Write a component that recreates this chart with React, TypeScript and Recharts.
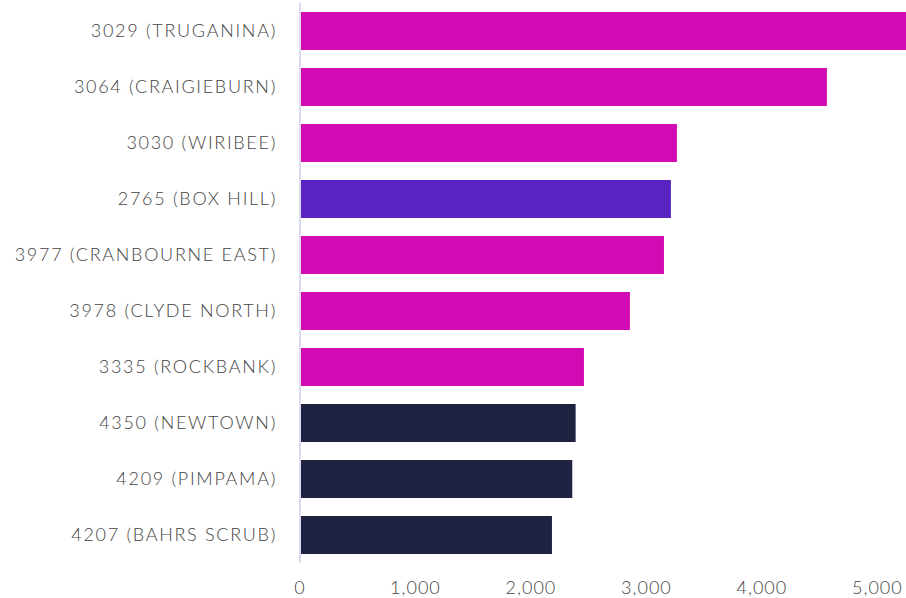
import { Bar, BarChart, Cell, XAxis, YAxis } from 'recharts';

const suburbs = [
  '3029 (TRUGANINA)',
  '3064 (CRAIGIEBURN)',
  '3030 (WIRIBEE)',
  '2765 (BOX HILL)',
  '3977 (CRANBOURNE EAST)',
  '3978 (CLYDE NORTH)',
  '3335 (ROCKBANK)',
  '4350 (NEWTOWN)',
  '4209 (PIMPAMA)',
  '4207 (BAHRS SCRUB)',
];
const counts = [5300, 4563, 3264, 3212, 3152, 2857, 2459, 2387, 2358, 2182];
const states = ['VIC', 'VIC', 'VIC', 'NSW', 'VIC', 'VIC', 'VIC', 'QLD', 'QLD', 'QLD'];
const xTicks = [0, 1000, 2000, 3000, 4000, 5000];

const stateColors: Record<string, string> = {
  VIC: '#d20ab4',
  NSW: '#5a22c0',
  QLD: '#1f2341',
};

const chartData = suburbs.map((name, i) => ({ name, value: counts[i], state: states[i] }));

const font = 'Lato, "Open Sans", sans-serif';

export default function App() {
  return (
    <div style={{ position: 'absolute', left: 0, top: 0, width: 906, height: 598, overflow: 'hidden', background: '#fff' }}>
      <BarChart
        width={920}
        height={598}
        data={chartData}
        layout="vertical"
        margin={{ top: 3, right: 8, bottom: 0, left: 0 }}
        barCategoryGap={9}
      >
        <XAxis
          type="number"
          domain={[0, 5300]}
          ticks={xTicks}
          tickFormatter={(v: number) => v.toLocaleString('en-US')}
          axisLine={false}
          tickLine={false}
          tickSize={0}
          tickMargin={18}
          height={35}
          tick={{ fontSize: 18, fill: '#444', fontFamily: font, fontWeight: 300, letterSpacing: '1px' }}
        />
        <YAxis
          type="category"
          dataKey="name"
          width={300}
          axisLine={{ stroke: '#dcdaf0', strokeWidth: 2 }}
          tickLine={false}
          tickSize={0}
          tickMargin={23}
          interval={0}
          tick={{ fontSize: 18, fill: '#444', fontFamily: font, fontWeight: 300, letterSpacing: '1.7px' }}
        />
        <Bar dataKey="value" isAnimationActive={false}>
          {chartData.map((entry, index) => (
            <Cell key={`cell-${index}`} fill={stateColors[entry.state]} />
          ))}
        </Bar>
      </BarChart>
    </div>
  );
}
